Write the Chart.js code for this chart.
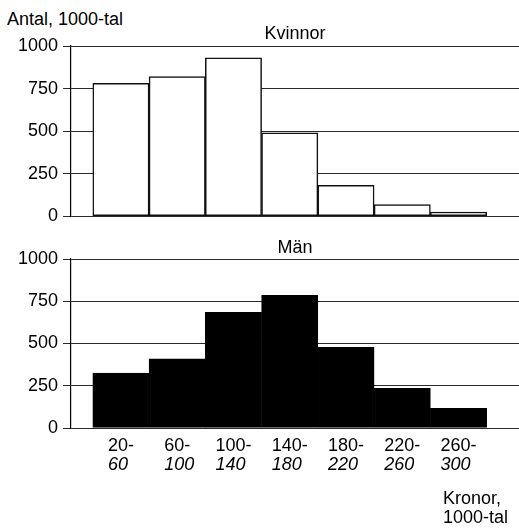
<!DOCTYPE html>
<html>
<head>
<meta charset="utf-8">
<script src="https://cdn.jsdelivr.net/npm/chart.js@4"></script>
<style>
  body { margin: 0; background: #fff; width: 519px; height: 528px; position: relative; overflow: hidden; }
  .lbl { position: absolute; font-family: "Liberation Sans", Arial, sans-serif; font-size: 18px; color: #000; }
  canvas { position: absolute; left: 0; }
</style>
</head>
<body>
<div class="lbl" style="left:7px; top:9px; line-height:20px;">Antal, 1000-tal</div>
<canvas id="kvinnor" width="519" height="232" style="top:0"></canvas>
<canvas id="man" width="519" height="296" style="top:232px"></canvas>
<div class="lbl" style="left:443px; top:489px; line-height:19px;">Kronor,<br>1000-tal</div>
<script>
// inkomstklasser, 1000-tal kronor
const binFrom = [20, 60, 100, 140, 180, 220, 260];
const binTo = [60, 100, 140, 180, 220, 260, 300];
// antal personer, 1000-tal
const kvinnor = [780, 820, 930, 490, 182, 69, 24];
const man = [325, 410, 685, 785, 478, 235, 117];
const yTicks = [0, 250, 500, 750, 1000];

const font = "'Liberation Sans', Arial, sans-serif";
Chart.defaults.font.family = font;
Chart.defaults.font.size = 18;
Chart.defaults.color = '#000';

const toPoints = vals => vals.map((v, i) => ({ x: (binFrom[i] + binTo[i]) / 2, y: v }));

// tva raders etiketter: "20-" rak, "60" kursiv
const binLabels = {
  id: 'binLabels',
  afterDraw(chart) {
    const ctx = chart.ctx;
    const xs = chart.scales.x;
    const base = chart.chartArea.bottom;
    ctx.save();
    ctx.fillStyle = '#000';
    ctx.textBaseline = 'alphabetic';
    ctx.textAlign = 'left';
    binFrom.forEach((f, i) => {
      const cx = xs.getPixelForValue((f + binTo[i]) / 2);
      const top = f + '-';
      ctx.font = '18px ' + font;
      const left = cx - ctx.measureText(top).width / 2;
      ctx.fillText(top, left, base + 23);
      ctx.font = 'italic 18px ' + font;
      ctx.fillText(String(binTo[i]), left, base + 42);
    });
    ctx.restore();
  }
};

function makeChart(id, title, values, fill, stroke, pad) {
  return new Chart(document.getElementById(id), {
    type: 'bar',
    data: {
      datasets: [{
        data: toPoints(values),
        backgroundColor: fill,
        borderColor: stroke,
        borderWidth: 1.5,
        borderSkipped: false,
        barPercentage: 1,
        categoryPercentage: 1
      }]
    },
    options: {
      responsive: false,
      animation: false,
      layout: { padding: { left: 0, right: 0, top: 0, bottom: pad.bottom } },
      plugins: {
        legend: { display: false },
        tooltip: { enabled: false },
        title: {
          display: true,
          text: title,
          fullSize: false,
          color: '#000',
          font: { size: 18, weight: 'normal' },
          padding: { top: pad.tTop, bottom: pad.tBottom }
        }
      },
      scales: {
        x: { type: 'linear', display: false, offset: false, min: 4.5, max: 323 },
        y: {
          min: 0,
          max: 1000,
          afterFit: s => { s.width = 71; },
          afterBuildTicks: s => { s.ticks = yTicks.map(v => ({ value: v })); },
          ticks: { padding: 5, color: '#000', font: { size: 18 }, callback: v => String(v) },
          grid: { color: '#2a2a2a', lineWidth: 1, tickLength: 8, drawTicks: true },
          border: { display: true, color: '#000', width: 1.2 }
        }
      }
    },
    plugins: id === 'man' ? [binLabels] : []
  });
}

makeChart('kvinnor', 'Kvinnor', kvinnor, '#fff', '#111', { bottom: 12, tTop: 23.4, tBottom: 1 });
makeChart('man', 'Män', man, '#000', '#000', { bottom: 100, tTop: 5.4, tBottom: 0 });
</script>
</body>
</html>
